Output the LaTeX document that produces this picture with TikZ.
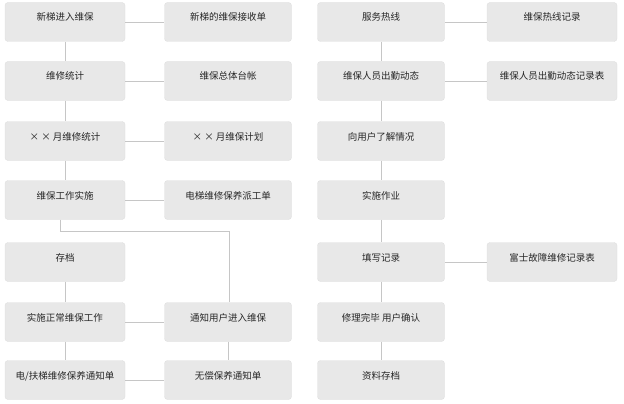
\documentclass[tikz,border=0pt]{standalone}
\usepackage{fontspec}
\newfontfamily\cjk{Noto Sans CJK SC}
\begin{document}
\begin{tikzpicture}[x=1pt,y=-1pt,
  bx/.style={draw=gray!25,fill=gray!18,rounded corners=3pt,minimum width=120pt,minimum height=39pt,inner sep=1pt,text height=8pt,text depth=10pt,font=\cjk\fontsize{9.5}{11}\selectfont,text=black!85},
  bxw/.style={bx,minimum width=127pt},
  ln/.style={draw=gray!45,line width=0.6pt}]
\useasboundingbox (0,0) rectangle (624,404);
\node[bx] (a1) at (65,22) {新梯进入维保};
\node[bx] (a2) at (65,81) {维修统计};
\node[bx] (a3) at (65,141) {× × 月维修统计};
\node[bx] (a4) at (65,200) {维保工作实施};
\node[bx] (a5) at (65,262) {存档};
\node[bx] (a6) at (65,322) {实施正常维保工作};
\node[bx] (a7) at (65,380) {电/扶梯维修保养通知单};
\node[bxw] (b1) at (228,22) {新梯的维保接收单};
\node[bxw] (b2) at (228,81) {维保总体台帐};
\node[bxw] (b3) at (228,141) {× × 月维保计划};
\node[bxw] (b4) at (228,200) {电梯维修保养派工单};
\node[bxw] (b6) at (228,322) {通知用户进入维保};
\node[bxw] (b7) at (228,380) {无偿保养通知单};
\node[bxw] (c1) at (381,22) {服务热线};
\node[bxw] (c2) at (381,81) {维保人员出勤动态};
\node[bxw] (c3) at (381,141) {向用户了解情况};
\node[bxw] (c4) at (381,200) {实施作业};
\node[bxw] (c5) at (381,262) {填写记录};
\node[bxw] (c6) at (381,322) {修理完毕 用户确认};
\node[bxw] (c7) at (381,380) {资料存档};
\node[bx,minimum width=130pt] (d1) at (552,22) {维保热线记录};
\node[bx,minimum width=130pt] (d2) at (552,81) {维保人员出勤动态记录表};
\node[bx,minimum width=130pt] (d5) at (552,262) {富士故障维修记录表};
\coordinate (k1) at (60,231);
\coordinate (k2) at (229,231);
\begin{scope}[on background layer/.try]
\foreach \u/\v in {a1/a2,a2/a3,a3/a4,a5/a6,a6/a7,b6/b7,c1/c2,c2/c3,c3/c4,c4/c5,c5/c6,c6/c7}
  \draw[ln] (\u) -- (\v);
\foreach \u/\v in {a1/b1,a2/b2,a3/b3,a4/b4,a6/b6,a7/b7,c1/d1,c2/d2,c5/d5}
  \draw[ln] (\u) -- (\v);
\draw[ln] (a4.south -| k1) -- (k1) -- (k2) -- (b6.north -| k2);
\end{scope}
\end{tikzpicture}
\end{document}
